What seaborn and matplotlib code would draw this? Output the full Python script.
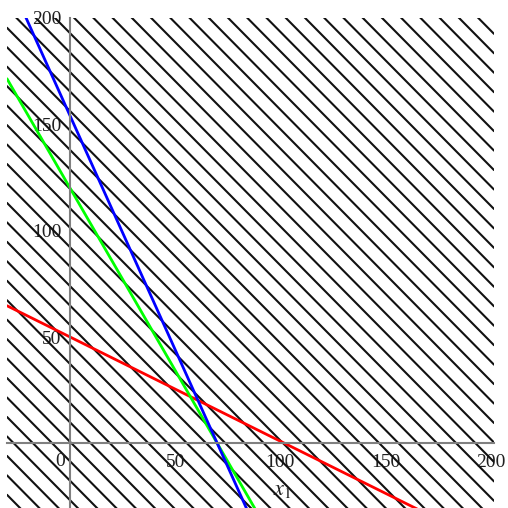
import numpy as np
import pandas as pd
import matplotlib
matplotlib.use("Agg")
import matplotlib.pyplot as plt
import seaborn as sns
from matplotlib.ticker import MultipleLocator, FixedLocator

# plot window (data units)
x_range = [-30, 201.6]
y_range = [-30.4, 200]
x_ticks = [50, 100, 150, 200]
y_ticks = [50, 100, 150, 200]

# constraint lines: (intercept, slope)
red_line = (50, -0.49)
green_line = (120, -12 / 7)
blue_line = (154, -2.2)

# hatching y = -x + c
hatch_start = 202
hatch_step = 9.15


def line_frame(intercept, slope):
    xs = np.array(x_range)
    return pd.DataFrame({"x": xs, "y": intercept + slope * xs})


sns.set_style("white")
plt.rcParams["font.family"] = ["Liberation Serif", "DejaVu Serif"]
plt.rcParams["mathtext.fontset"] = "stix"

fig = plt.figure(figsize=(5.08, 5.08), dpi=100)
ax = fig.add_axes([7 / 508, 0, 487 / 508, 490 / 508])

# hatch lines
offsets = np.arange(hatch_start - hatch_step * 30, 420, hatch_step)
rows = []
for i, c in enumerate(offsets):
    for xv in x_range:
        rows.append({"x": xv, "y": c - xv, "unit": i})
hatch = pd.DataFrame(rows)
sns.lineplot(data=hatch, x="x", y="y", units="unit", estimator=None,
             color="#111111", lw=1.5, ax=ax, legend=False, sort=False)

for (b, m), col in [(red_line, "red"), (green_line, "#00ff00"), (blue_line, "blue")]:
    df = line_frame(b, m)
    sns.lineplot(data=df, x="x", y="y", color=col, lw=2.0, ax=ax, sort=False)

ax.set_xlim(*x_range)
ax.set_ylim(*y_range)

for side in ["top", "right"]:
    ax.spines[side].set_visible(False)
for side in ["left", "bottom"]:
    ax.spines[side].set_position(("data", 0))
    ax.spines[side].set_color("#808080")
    ax.spines[side].set_linewidth(1.5)
    ax.spines[side].set_zorder(5)

ax.xaxis.set_major_locator(FixedLocator(x_ticks))
ax.yaxis.set_major_locator(FixedLocator(y_ticks))
ax.xaxis.set_minor_locator(MultipleLocator(10))
ax.yaxis.set_minor_locator(MultipleLocator(10))
ax.tick_params(which="both", direction="out", length=3.5, width=1,
               color="#808080", labelsize=14, labelcolor="#202020")
ax.tick_params(axis="x", which="major", pad=4)
ax.tick_params(axis="y", which="major", pad=2.5)
ax.set_xlabel("")
ax.set_ylabel("")

ax.text(-4.8, -8.4, "0", ha="center", va="center", fontsize=14, color="#202020")
ax.text(100.8, -22.2, "$x_1$", ha="center", va="center", fontsize=16, color="#202020")

fig.savefig("out.png", dpi=100)
